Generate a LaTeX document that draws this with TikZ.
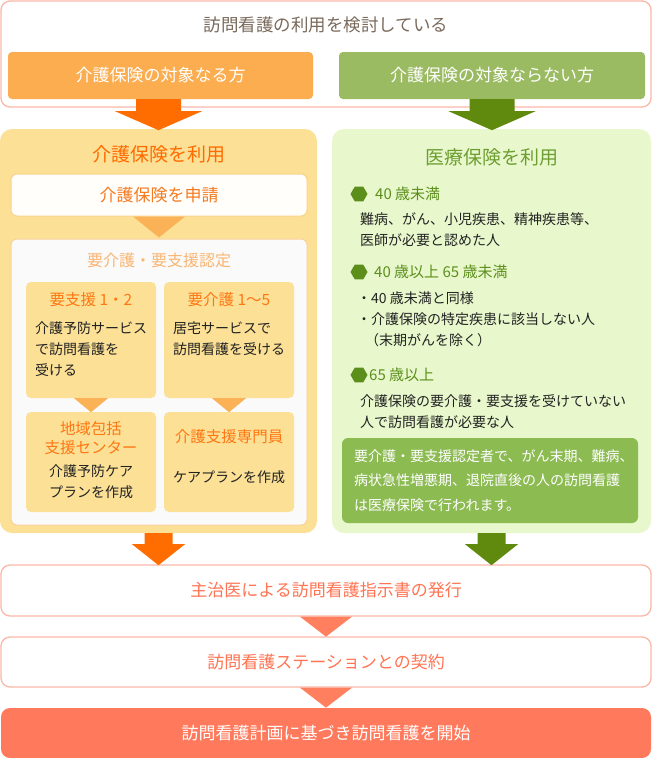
\documentclass[tikz,border=0pt]{standalone}
\usepackage{fontspec}
\setmainfont{Noto Sans CJK JP}
\usepackage{tikz}
\usetikzlibrary{shapes.geometric,calc}

\definecolor{linePink}{HTML}{FBB7A8}
\definecolor{headGray}{HTML}{7A6A5C}
\definecolor{kaigoOrange}{HTML}{FBAD50}
\definecolor{iryoGreen}{HTML}{9BBB62}
\definecolor{arrowOrangeC}{HTML}{FF6D00}
\definecolor{arrowGreenC}{HTML}{5F8A0E}
\definecolor{kaigoPale}{HTML}{FBE096}
\definecolor{kaigoDeep}{HTML}{FF6B00}
\definecolor{applyLine}{HTML}{FAD38D}
\definecolor{applyText}{HTML}{F47A20}
\definecolor{triOrangeC}{HTML}{FBB257}
\definecolor{ninteiLine}{HTML}{FBD29B}
\definecolor{ninteiText}{HTML}{F9B572}
\definecolor{subOrange}{HTML}{FF7712}
\definecolor{iryoPale}{HTML}{E8F8CC}
\definecolor{iryoTitle}{HTML}{6E9E31}
\definecolor{bulletGreen}{HTML}{5C8E1B}
\definecolor{noteGreen}{HTML}{8CBB52}
\definecolor{stepSalmon}{HTML}{FF7452}
\definecolor{triSalmon}{HTML}{FF7F5F}
\definecolor{finalSalmon}{HTML}{FF7A5C}
\definecolor{bodyBlack}{HTML}{222222}

\begin{document}
\begin{tikzpicture}[x=1pt, y=-1pt,
    frame/.style={draw=linePink, line width=1.3pt, fill=white, rounded corners=9pt, minimum width=650pt, inner sep=0pt},
    choiceBox/.style={rounded corners=4pt, text=white, minimum height=47pt, inner sep=0pt, font=\fontsize{17}{20}\selectfont},
    panel/.style={rounded corners=12pt, minimum height=404pt, inner sep=0pt},
    panelTitle/.style={inner sep=0pt, font=\fontsize{19}{22}\selectfont},
    applyBox/.style={draw=applyLine, line width=1pt, fill=white!96!kaigoPale, rounded corners=6pt, text=applyText, minimum width=296pt, minimum height=42pt, inner sep=0pt, font=\fontsize{17}{20}\selectfont},
    ninteiBox/.style={draw=ninteiLine, line width=1pt, fill=white!98!black, rounded corners=6pt, minimum width=296pt, minimum height=286pt, inner sep=0pt},
    ninteiTitle/.style={text=ninteiText, inner sep=0pt, font=\fontsize{16}{19}\selectfont},
    subBox/.style={fill=kaigoPale, rounded corners=5pt, minimum width=130pt, minimum height=116pt, inner sep=0pt},
    subTitle/.style={text=subOrange, inner sep=0pt, align=center, font=\fontsize{15.5}{18.5}\selectfont},
    bodyText/.style={text=bodyBlack, inner sep=0pt, align=left, font=\fontsize{14}{21}\selectfont},
    bulletText/.style={text=bulletGreen, inner sep=0pt, anchor=west, font=\fontsize{15}{18}\selectfont},
    hexBullet/.style={regular polygon, regular polygon sides=6, fill=bulletGreen, minimum size=17pt, inner sep=0pt},
    noteBox/.style={fill=noteGreen, rounded corners=6pt, minimum width=296pt, minimum height=85pt, inner sep=0pt},
    noteText/.style={text=white, inner sep=0pt, align=left, font=\fontsize{14}{24.5}\selectfont},
    stepText/.style={text=stepSalmon, font=\fontsize{17}{20}\selectfont},
    arrowOrange/.style={fill=arrowOrangeC},
    arrowGreen/.style={fill=arrowGreenC},
    triOrange/.style={fill=triOrangeC},
    triStep/.style={fill=triSalmon},
]
    \useasboundingbox (0,0) rectangle (652,758);

    % Question
    \node[frame, minimum height=106pt] (consider) at (326,54) {};
    \node[text=headGray, inner sep=0pt, font=\fontsize{17.5}{20}\selectfont] (considerTitle) at (326,25) {訪問看護の利用を検討している};
    \node[choiceBox, fill=kaigoOrange, minimum width=305pt] (kaigoTarget) at (160.5,75.5) {介護保険の対象なる方};
    \node[choiceBox, fill=iryoGreen, minimum width=306pt] (iryoTarget) at (492,75.5) {介護保険の対象ならない方};

    % Panels
    \node[panel, fill=kaigoPale, minimum width=317pt] (kaigoUse) at (158.5,331) {};
    \node[panel, fill=iryoPale, minimum width=319pt] (iryoUse) at (491.5,331) {};

    % Arrows from the question
    \fill[arrowOrange] ($(kaigoTarget.south)+(-24.5,0)$) -- ++(45,0) -- ++(0,12) -- ++(21,0) -- ($(kaigoTarget.south)+(-2,31)$) -- ++(-43.5,-19) -- ++(21,0) -- cycle;
    \fill[arrowGreen] ($(iryoTarget.south)+(-22.5,0)$) -- ++(45,0) -- ++(0,12) -- ++(21,0) -- ($(iryoTarget.south)+(0,31)$) -- ++(-43.5,-19) -- ++(21,0) -- cycle;

    % Care insurance
    \node[panelTitle, text=kaigoDeep] (kaigoUseTitle) at (158.5,154) {介護保険を利用};
    \node[applyBox] (shinsei) at (159,195) {介護保険を申請};
    \node[ninteiBox] (nintei) at (159,382) {};
    \fill[triOrange] ($(shinsei.south)+(-26,0)$) -- ++(52,0) -- ($(shinsei.south)+(0,21)$) -- cycle;
    \node[ninteiTitle] (ninteiTitle) at (159,260) {要介護・要支援認定};

    \node[subBox] (shien) at (91,340) {};
    \node[subBox] (kaigoLv) at (229,340) {};
    \node[subTitle] (shienTitle) at (91,300) {要支援 1・2};
    \node[subTitle] (kaigoLvTitle) at (229,300) {要介護 1～5};
    \node[bodyText, anchor=west] (shienBody) at (35,349) {介護予防サービス\\で訪問看護を\\受ける};
    \node[bodyText, anchor=west] (kaigoLvBody) at (173,338.5) {居宅サービスで\\訪問看護を受ける};

    \node[subBox, minimum height=100pt] (houkatsu) at (91,462) {};
    \node[subBox, minimum height=100pt] (caremgr) at (229,462) {};
    \fill[triOrange] ($(shien.south)+(-17,0)$) -- ++(34,0) -- ($(shien.south)+(0,14)$) -- cycle;
    \fill[triOrange] ($(kaigoLv.south)+(-17,0)$) -- ++(34,0) -- ($(kaigoLv.south)+(0,14)$) -- cycle;
    \node[subTitle] (houkatsuTitle) at (91,438) {地域包括\\支援センター};
    \node[bodyText, align=center] (houkatsuBody) at (91,481.5) {介護予防ケア\\プランを作成};
    \node[subTitle] (caremgrTitle) at (229,437) {介護支援専門員};
    \node[bodyText] (caremgrBody) at (229,477) {ケアプランを作成};

    % Medical insurance
    \node[panelTitle, text=iryoTitle] (iryoUseTitle) at (491.5,157) {医療保険を利用};
    \node[hexBullet] (under40Mark) at (359,194) {};
    \node[bulletText] (under40) at (375,194) {40 歳未満};
    \node[bodyText, anchor=west] (under40Body) at (360,229.5) {難病、がん、小児疾患、精神疾患等、\\医師が必要と認めた人};
    \node[hexBullet] (midAgeMark) at (359,272) {};
    \node[bulletText] (midAge) at (374,272) {40 歳以上 65 歳未満};
    \node[bodyText, anchor=west] (midAgeBody) at (357,319.5) {・40 歳未満と同様\\・介護保険の特定疾患に該当しない人\\\hspace*{8pt}（末期がんを除く）};
    \node[hexBullet] (over65Mark) at (359,375) {};
    \node[bulletText] (over65) at (369,375) {65 歳以上};
    \node[bodyText, anchor=west] (over65Body) at (360,411.5) {介護保険の要介護・要支援を受けていない\\人で訪問看護が必要な人};
    \node[noteBox] (note) at (490,480.5) {};
    \node[noteText, anchor=west] (noteBody) at (354,480.5) {要介護・要支援認定者で、がん末期、難病、\\病状急性増悪期、退院直後の人の訪問看護\\は医療保険で行われます。};

    % After the insurance
    \node[frame, minimum height=51pt, stepText] (shiji) at (326,590.5) {主治医による訪問看護指示書の発行};
    \node[frame, minimum height=50pt, stepText] (keiyaku) at (326,662) {訪問看護ステーションとの契約};
    \node[frame, minimum height=50pt, stepText, draw=none, fill=finalSalmon, text=white] (kaishi) at (326,733) {訪問看護計画に基づき訪問看護を開始};

    \fill[arrowOrange] ($(kaigoUse.south)+(-14,0)$) -- ++(28,0) -- ++(0,11) -- ++(12.5,0) -- ($(kaigoUse.south)+(0,32)$) -- ++(-26.5,-21) -- ++(12.5,0) -- cycle;
    \fill[arrowGreen] ($(iryoUse.south)+(-14,0)$) -- ++(28,0) -- ++(0,11) -- ++(12.5,0) -- ($(iryoUse.south)+(0,32)$) -- ++(-26.5,-21) -- ++(12.5,0) -- cycle;
    \fill[triStep] ($(shiji.south)+(-26,0)$) -- ++(52,0) -- ($(shiji.south)+(0,20)$) -- cycle;
    \fill[triStep] ($(keiyaku.south)+(-26,0)$) -- ++(52,0) -- ($(keiyaku.south)+(0,20)$) -- cycle;
\end{tikzpicture}
\end{document}
